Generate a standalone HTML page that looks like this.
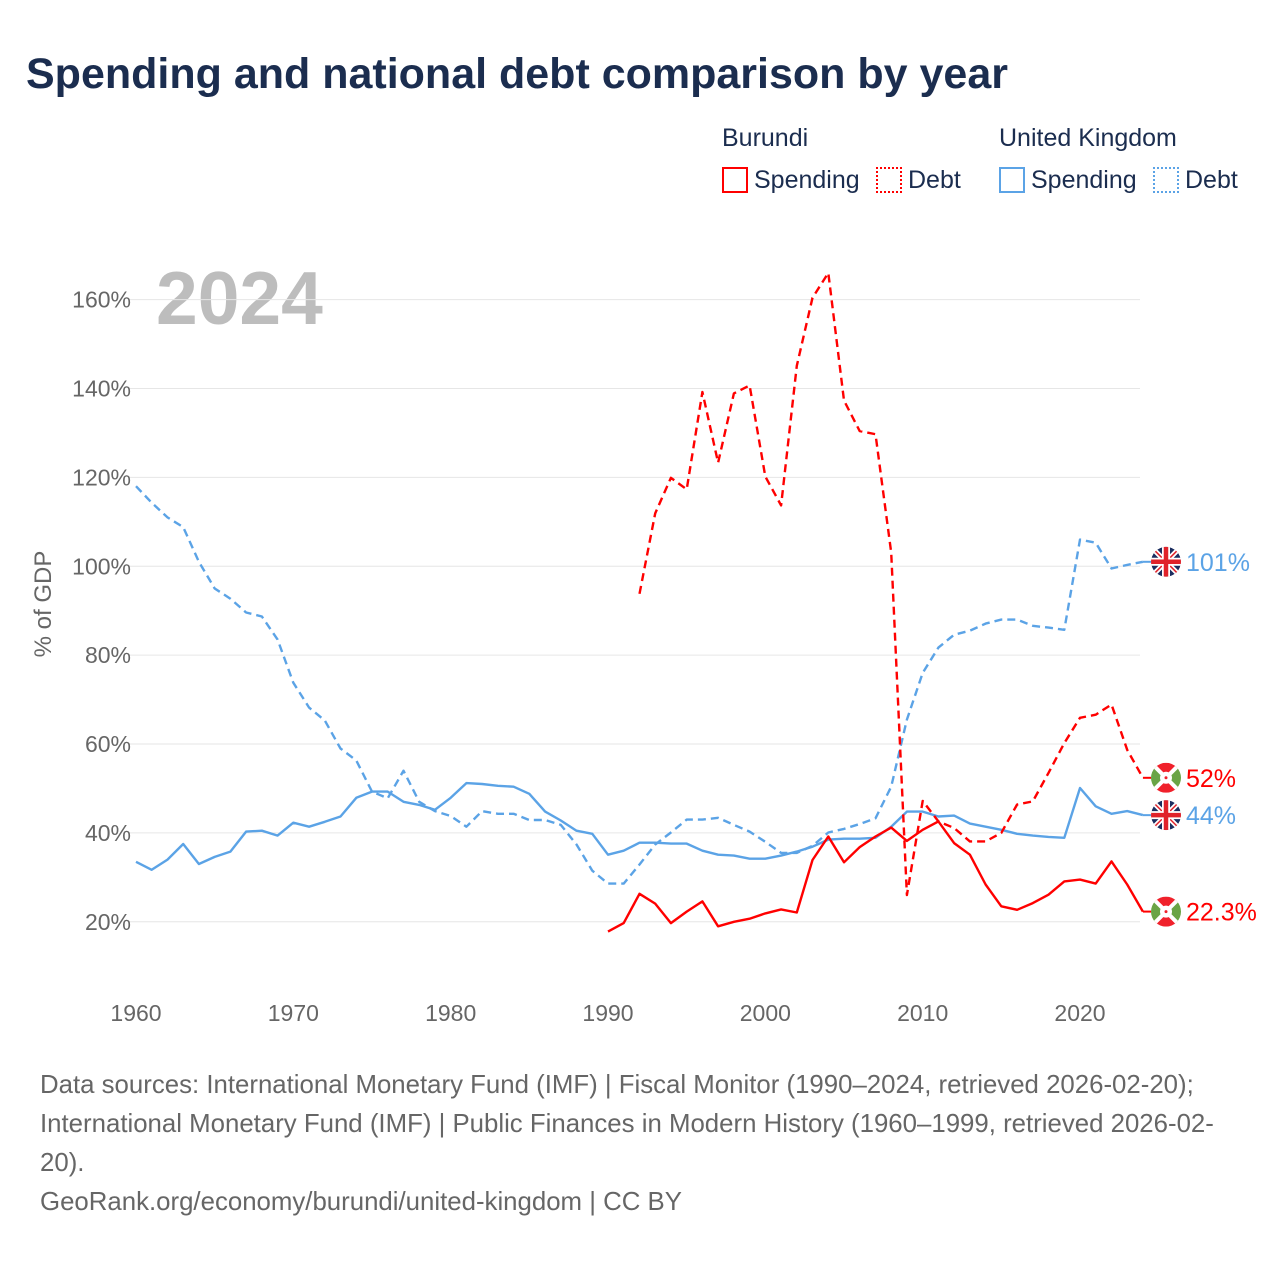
<!DOCTYPE html>
<html><head><meta charset="utf-8"><style>
body{margin:0;background:#fff;font-family:"Liberation Sans",sans-serif;}
#wrap{position:relative;width:1280px;height:1280px;overflow:hidden;}
.t{position:absolute;white-space:nowrap;}
</style></head><body>
<div id="wrap">
<div class="t" style="left:26px;top:50px;font-size:43px;font-weight:bold;color:#1b2d4f;">Spending and national debt comparison by year</div>
<div class="t" style="left:722px;top:124px;font-size:25px;color:#1b2d4f;">Burundi</div>
<div class="t" style="left:999px;top:124px;font-size:25px;color:#1b2d4f;">United Kingdom</div>
<div class="t" style="left:722px;top:166px;font-size:25px;color:#1b2d4f;"><span style="display:inline-block;width:22px;height:22px;border:2px solid #f00;vertical-align:-5px;margin-right:6px;"></span>Spending</div>
<div class="t" style="left:876px;top:166px;font-size:25px;color:#1b2d4f;"><span style="display:inline-block;width:22px;height:22px;border:2px dotted #f00;vertical-align:-5px;margin-right:6px;"></span>Debt</div>
<div class="t" style="left:999px;top:166px;font-size:25px;color:#1b2d4f;"><span style="display:inline-block;width:22px;height:22px;border:2px solid #5ba3e6;vertical-align:-5px;margin-right:6px;"></span>Spending</div>
<div class="t" style="left:1153px;top:166px;font-size:25px;color:#1b2d4f;"><span style="display:inline-block;width:22px;height:22px;border:2px dotted #5ba3e6;vertical-align:-5px;margin-right:6px;"></span>Debt</div>
<svg id="chart" width="1280" height="1280" style="position:absolute;left:0;top:0;">
<text x="156" y="324" font-family="Liberation Sans, sans-serif" font-size="75" font-weight="bold" fill="#bdbdbd">2024</text>
<text transform="translate(51,604) rotate(-90)" text-anchor="middle" font-family="Liberation Sans, sans-serif" font-size="24" fill="#666">% of GDP</text>
<g id="grid"></g><g id="lines"></g><g id="ends"></g>
</svg>
<div class="t" style="left:40px;top:1066px;font-size:25.8px;line-height:39px;color:#666;">Data sources: International Monetary Fund (IMF) | Fiscal Monitor (1990–2024, retrieved 2026-02-20);<br>International Monetary Fund (IMF) | Public Finances in Modern History (1960–1999, retrieved 2026-02-<br>20).<br>GeoRank.org/economy/burundi/united-kingdom | CC BY</div>
</div>
<script>
const ukSpendStart = 1960;
const ukSpending = [33.5,31.7,34,37.5,33,34.6,35.8,40.3,40.5,39.4,42.3,41.4,42.5,43.7,47.9,49.3,49.3,47,46.3,45.2,47.9,51.2,51,50.6,50.4,48.8,44.8,42.8,40.5,39.8,35.1,36,37.8,37.8,37.6,37.6,36,35.1,34.9,34.2,34.2,34.9,35.8,36.9,38.5,38.7,38.7,38.9,41.4,44.8,44.8,43.7,43.9,42.1,41.4,40.7,39.8,39.4,39.1,38.9,50.1,46,44.3,44.9,44];
const ukDebt = [118,114.3,111,108.8,101,95,92.7,89.6,88.7,83.5,73.8,68.2,65.3,59,56.3,49.3,47.8,54,47,44.9,43.8,41.4,44.9,44.3,44.3,42.9,42.9,41.8,37.4,31.5,28.6,28.6,32.9,37.4,40.1,43,43,43.4,41.8,40.3,38,35.5,35.5,37.1,40.1,40.9,42,43.3,50.4,65.5,76,81.7,84.6,85.5,87.1,88,88,86.6,86.2,85.7,106,105.3,99.5,100.3,101];
const buSpendStart = 1990;
const buSpending = [17.8,19.7,26.3,24.1,19.7,22.3,24.6,19,20,20.7,21.9,22.8,22.1,33.9,39.2,33.4,36.8,39.2,41.2,38.2,40.7,42.6,37.7,35.1,28.4,23.5,22.7,24.2,26.1,29.1,29.5,28.6,33.6,28.4,22.3];
const buDebtStart = 1992;
const buDebt = [93.8,111.9,119.9,117.3,139.2,123.3,138.9,140.7,120.2,113.7,145.1,160.4,166,137.3,130.4,129.7,103.1,26,47.2,42.6,41.1,38.1,38.1,40,46.4,47.1,53.5,60.2,65.9,66.6,68.9,58.7,52.4];
const yTicks = [20,40,60,80,100,120,140,160];
const xTicks = [1960,1970,1980,1990,2000,2010,2020];
const endLabels = ["101%","44%","52%","22.3%"];

const NS="http://www.w3.org/2000/svg";
const X=y=>136+(y-1960)*(944/60);
const Y=v=>1010.7-v*4.4445;
function mk(tag,attrs,parent){const e=document.createElementNS(NS,tag);for(const k in attrs)e.setAttribute(k,attrs[k]);parent.appendChild(e);return e;}
const grid=document.getElementById('grid'),lines=document.getElementById('lines'),ends=document.getElementById('ends');
yTicks.forEach(v=>{
  const l=mk('line',{x1:128,x2:1140,y1:Y(v),y2:Y(v),stroke:'#e6e6e6','stroke-width':1},grid);
  
  
  const t=mk('text',{x:131,y:Y(v)+8,'text-anchor':'end','font-family':'Liberation Sans, sans-serif','font-size':23,fill:'#666'},grid);
  t.textContent=v+'%';
  
  
});
xTicks.forEach(yr=>{
  const t=mk('text',{x:X(yr),y:1021,'text-anchor':'middle','font-family':'Liberation Sans, sans-serif','font-size':23,fill:'#666'},grid);
  t.textContent=yr;
  
  
});
function series(arr,start,color,dash,name){
  const d=arr.map((v,i)=>(i?'L':'M')+X(start+i).toFixed(1)+','+Y(v).toFixed(1)).join('');
  const p=mk('path',{d:d,fill:'none',stroke:color,'stroke-width':2.4,'stroke-linejoin':'round'},lines);
  if(dash)p.setAttribute('stroke-dasharray','8,5');
  
  
}
series(ukDebt,ukSpendStart,'#5ba3e6',true,'uk-debt-line');
series(ukSpending,ukSpendStart,'#5ba3e6',false,'uk-spending-line');
series(buDebt,buDebtStart,'#f00',true,'burundi-debt-line');
series(buSpending,buSpendStart,'#f00',false,'burundi-spending-line');

function ukFlag(cx,cy,g){
  mk('circle',{cx:cx,cy:cy,r:15,fill:'#1b2d5f'},g);
  mk('path',{d:`M${cx-11},${cy-11}L${cx+11},${cy+11}M${cx+11},${cy-11}L${cx-11},${cy+11}`,stroke:'#fff','stroke-width':5},g);
  mk('path',{d:`M${cx-11},${cy-11}L${cx+11},${cy+11}M${cx+11},${cy-11}L${cx-11},${cy+11}`,stroke:'#e0222a','stroke-width':1.5},g);
  mk('path',{d:`M${cx-15},${cy}H${cx+15}M${cx},${cy-15}V${cy+15}`,stroke:'#fff','stroke-width':8},g);
  mk('path',{d:`M${cx-15},${cy}H${cx+15}M${cx},${cy-15}V${cy+15}`,stroke:'#e0222a','stroke-width':4.5},g);
}
function buFlag(cx,cy,g){
  mk('circle',{cx:cx,cy:cy,r:15,fill:'#fff'},g);
  mk('path',{d:`M${cx-15},${cy-15}L${cx+15},${cy-15}L${cx},${cy}Z M${cx-15},${cy+15}L${cx+15},${cy+15}L${cx},${cy}Z`,fill:'#f0212b'},g);
  mk('path',{d:`M${cx-15},${cy-15}L${cx-15},${cy+15}L${cx},${cy}Z M${cx+15},${cy-15}L${cx+15},${cy+15}L${cx},${cy}Z`,fill:'#6aa445'},g);
  mk('path',{d:`M${cx-15},${cy-15}L${cx+15},${cy+15}M${cx+15},${cy-15}L${cx-15},${cy+15}`,stroke:'#fff','stroke-width':4},g);
  mk('circle',{cx:cx,cy:cy,r:6,fill:'#fff'},g);
  mk('circle',{cx:cx,cy:cy,r:1.5,fill:'#f0212b'},g);
}
const endData=[[ukDebt[ukDebt.length-1],'#5ba3e6','uk'],[ukSpending[ukSpending.length-1],'#5ba3e6','uk'],[buDebt[buDebt.length-1],'#f00','bu'],[buSpending[buSpending.length-1],'#f00','bu']];
const endNames=['uk-debt-end-label','uk-spending-end-label','burundi-debt-end-label','burundi-spending-end-label'];
endData.forEach((e,i)=>{
  const cy=Y(e[0]);
  mk('line',{x1:X(2024),x2:1152,y1:cy,y2:cy,stroke:e[1],'stroke-width':2},ends);
  const g=mk('g',{},ends);
  
  
  const cp=mk('clipPath',{id:'cp'+i},ends);mk('circle',{cx:1166,cy:cy,r:15},cp);
  g.setAttribute('clip-path','url(#cp'+i+')');
  if(e[2]==='uk')ukFlag(1166,cy,g);else buFlag(1166,cy,g);
  const t=mk('text',{x:1186,y:cy+9,'font-family':'Liberation Sans, sans-serif','font-size':25,fill:e[1]},ends);
  t.textContent=endLabels[i];
  
  
});
</script>
</body></html>
